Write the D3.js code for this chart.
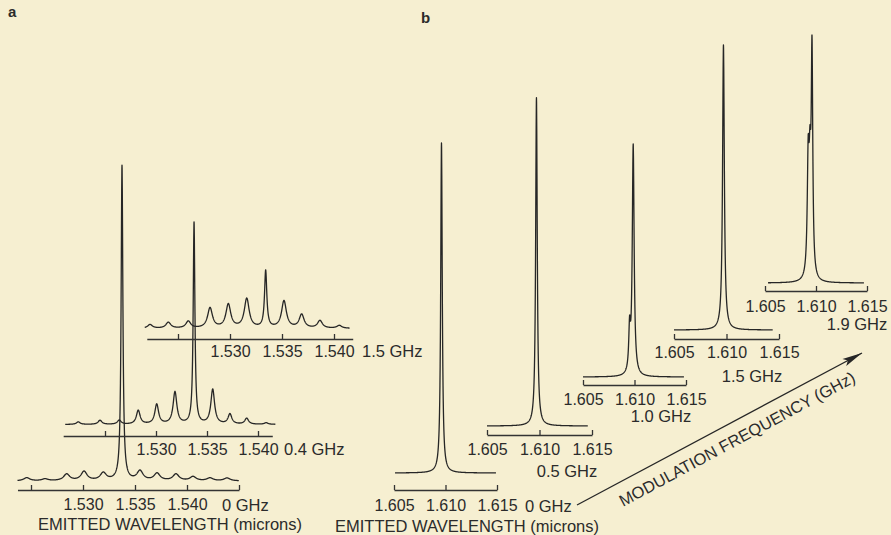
<!DOCTYPE html>
<html>
<head>
<meta charset="utf-8">
<style>
html, body { margin: 0; padding: 0; background: #f6efd1; }
svg { display: block; }
text { font-family: "Liberation Sans", Arial, sans-serif; fill: #2b2b2b; }
</style>
</head>
<body>
<svg width="891" height="535"></svg>
<script src="https://d3js.org/d3.v7.min.js"></script>
<script>
// ---- values ----
// panel a: mode wavelengths (microns), heights (a.u., 0 GHz main mode = 100), half widths (microns)
var aFreqs = ["0 GHz", "0.4 GHz", "1.5 GHz"];
var a0Modes   = [1.52459, 1.52635, 1.52843, 1.53010, 1.53195, 1.53375, 1.53548, 1.53712, 1.53894, 1.54058, 1.54221, 1.54385];
var a0Heights = [1.0, 0.6, 2.1, 2.9, 2.4, 100, 3.0, 2.3, 2.1, 1.3, 0.9, 0.9];
var a0Widths  = [0.00035, 0.00035, 0.00035, 0.00035, 0.00035, 0.0001, 0.00035, 0.00035, 0.00035, 0.00035, 0.00035, 0.00035];
var a04Modes   = [1.52238, 1.52451, 1.52640, 1.52826, 1.53007, 1.53186, 1.53373, 1.53556, 1.53725, 1.53889, 1.54080];
var a04Heights = [0.8, 1.3, 1.3, 4.4, 6.3, 10.2, 64, 11.0, 3.2, 1.9, 0.5];
var a04Widths  = [0.00022, 0.00022, 0.00022, 0.00022, 0.00022, 0.00022, 0.0001, 0.00022, 0.00022, 0.00022, 0.00022];
var a15Modes   = [1.52231, 1.52407, 1.52599, 1.52808, 1.52984, 1.53161, 1.53343, 1.53519, 1.53689, 1.53865, 1.54051];
var a15Heights = [1.2, 1.9, 2.2, 6.4, 7.5, 9.3, 18.1, 8.6, 4.3, 2.4, 0.9];
var a15Widths  = [0.00028, 0.00028, 0.00028, 0.00028, 0.00028, 0.00028, 0.00013, 0.00028, 0.00028, 0.00028, 0.00028];
var aAxisRanges  = [[1.5237, 1.5450], [1.5209, 1.5414], [1.5220, 1.5418]];
var aTraceRanges = [[1.5237, 1.5450], [1.5211, 1.5417], [1.5218, 1.5415]];
var aTicks = [[1.525, 1.530, 1.535, 1.540, 1.545], [1.525, 1.530, 1.535, 1.540], [1.525, 1.530, 1.535, 1.540]];
var aTickLabels = [1.530, 1.535, 1.540];

// panel b: heights in a.u. (0 GHz mode = 100)
var bFreqs = ["0 GHz", "0.5 GHz", "1.0 GHz", "1.5 GHz", "1.9 GHz"];
var b0Modes  = [1.60961],                      b0Heights  = [100],              b0Widths  = [0.00009];
var b05Modes = [1.60971],                      b05Heights = [99.5],             b05Widths = [0.00009];
var b10Modes = [1.609524, 1.609874],           b10Heights = [12.7, 69.7],       b10Widths = [0.000097, 0.000107];
var b15Modes = [1.60971],                      b15Heights = [86.4],             b15Widths = [0.0001];
var b19Modes = [1.609235, 1.609412, 1.609608], b19Heights = [33.8, 27.7, 66.1], b19Widths = [0.000108, 0.000108, 0.000088];
var bTraceRanges = [[1.6051, 1.6149], [1.6050, 1.6146], [1.6050, 1.6148], [1.6050, 1.6144], [1.6053, 1.6147]];
var bTicks = [1.605, 1.610, 1.615];

// ---- layout (pixels) ----
var aLayout = [
  {x530: 83,  x540: 187, axisY: 490, baseY: 481,   pad: 9,   fx: 222, fy: 511, anchor: "start"},
  {x530: 156, x540: 258, axisY: 436, baseY: 424.5, pad: 7.5, fx: 284, fy: 455, anchor: "start"},
  {x530: 230, x540: 334, axisY: 339, baseY: 328.5, pad: 6.5, fx: 362, fy: 357, anchor: "start"}
];
var bLayout = [
  {x605: 394, x615: 497, axisY: 490, baseY: 473, pad: 10,  fx: 525, fy: 512, anchor: "start"},
  {x605: 487, x615: 592, axisY: 435, baseY: 426, pad: 8.5, fx: 567, fy: 477, anchor: "middle"},
  {x605: 583, x615: 686, axisY: 385, baseY: 377, pad: 8.5, fx: 661, fy: 422, anchor: "middle"},
  {x605: 674, x615: 779, axisY: 339, baseY: 330, pad: 7.5, fx: 752, fy: 382, anchor: "middle"},
  {x605: 765, x615: 867, axisY: 291, baseY: 283, pad: 9.5, fx: 857, fy: 330, anchor: "middle"}
];

var aSpectra = [[a0Modes, a0Heights, a0Widths], [a04Modes, a04Heights, a04Widths], [a15Modes, a15Heights, a15Widths]];
var bSpectra = [[b0Modes, b0Heights, b0Widths], [b05Modes, b05Heights, b05Widths], [b10Modes, b10Heights, b10Widths],
                [b15Modes, b15Heights, b15Widths], [b19Modes, b19Heights, b19Widths]];

var svg = d3.select("svg");
var ink = "#262626";
var tickFs = 16, fs = 16.5;

// lorentzian line shape for each mode
function spectrum(s, range) {
  var modes = s[0], h = s[1], w = s[2];
  var lam = d3.range(range[0], range[1], 0.00002)
    .concat(modes.filter(function(m) { return m > range[0] && m < range[1]; }))
    .sort(d3.ascending);
  return lam.map(function(l) {
    return [l, d3.sum(modes, function(m, i) { return h[i] * w[i] * w[i] / ((l - m) * (l - m) + w[i] * w[i]); })];
  });
}

function drawTrace(s, traceRange, axisRange, ticks, labelTicks, freq, L, x, yPx) {
  var g = svg.append("g");
  var xs = x.copy().domain(axisRange).range(axisRange.map(x));
  var y = d3.scaleLinear().domain([0, 100]).range([L.baseY, L.baseY - yPx]);

  g.append("path")
    .datum(spectrum(s, traceRange))
    .attr("fill", "none")
    .attr("stroke", ink)
    .attr("stroke-width", 1.3)
    .attr("stroke-linejoin", "round")
    .attr("d", d3.line().x(function(d) { return x(d[0]); }).y(function(d) { return y(d[1]); }));

  var ax = g.append("g")
    .attr("transform", "translate(0," + L.axisY + ")")
    .call(d3.axisTop(xs).tickValues(ticks).tickSize(5).tickSizeOuter(0).tickFormat(""));
  ax.selectAll("path, line").attr("stroke", "#333").attr("stroke-width", 1.3);

  var lab = g.append("g")
    .attr("transform", "translate(0," + L.axisY + ")")
    .call(d3.axisBottom(xs).tickValues(labelTicks).tickSize(0).tickPadding(L.pad).tickFormat(d3.format(".3f")));
  lab.select(".domain").remove();
  lab.selectAll("text").attr("font-size", tickFs).attr("fill", "#2b2b2b")
    .attr("font-family", "'Liberation Sans', Arial, sans-serif");

  g.append("text")
    .attr("x", L.fx).attr("y", L.fy)
    .attr("text-anchor", L.anchor)
    .attr("font-size", fs)
    .text(freq);
}

// panel a
aLayout.forEach(function(L, i) {
  var x = d3.scaleLinear().domain([1.530, 1.540]).range([L.x530, L.x540]);
  drawTrace(aSpectra[i], aTraceRanges[i], aAxisRanges[i], aTicks[i], aTickLabels, aFreqs[i], L, x, 315);
});

// panel b
bLayout.forEach(function(L, i) {
  var x = d3.scaleLinear().domain([1.605, 1.615]).range([L.x605, L.x615]);
  drawTrace(bSpectra[i], bTraceRanges[i], [1.605, 1.615], bTicks, bTicks, bFreqs[i], L, x, 330);
});

// titles and panel letters
svg.append("text").attr("x", 170).attr("y", 530).attr("text-anchor", "middle")
  .attr("font-size", fs).text("EMITTED WAVELENGTH (microns)");
svg.append("text").attr("x", 467).attr("y", 532).attr("text-anchor", "middle")
  .attr("font-size", fs).text("EMITTED WAVELENGTH (microns)");
svg.append("text").attr("x", 8).attr("y", 17).attr("font-size", 15).attr("font-weight", "bold").text("a");
svg.append("text").attr("x", 421).attr("y", 23).attr("font-size", 15).attr("font-weight", "bold").text("b");

// modulation frequency arrow
svg.append("defs").append("marker")
  .attr("id", "head")
  .attr("markerUnits", "userSpaceOnUse")
  .attr("markerWidth", 24).attr("markerHeight", 12)
  .attr("viewBox", "-22 -6 24 12")
  .attr("refX", 0).attr("refY", 0)
  .attr("orient", "auto")
  .append("path")
  .attr("d", "M0,0 L-20,-4 L-16,0 L-20,4 Z")
  .attr("fill", ink);
svg.append("line")
  .attr("x1", 577).attr("y1", 505).attr("x2", 862).attr("y2", 353)
  .attr("stroke", ink).attr("stroke-width", 1.3)
  .attr("marker-end", "url(#head)");
svg.append("text")
  .attr("transform", "translate(623,507) rotate(-28.3)")
  .attr("font-size", 16.5).text("MODULATION FREQUENCY (GHz)");
</script>
</body>
</html>
